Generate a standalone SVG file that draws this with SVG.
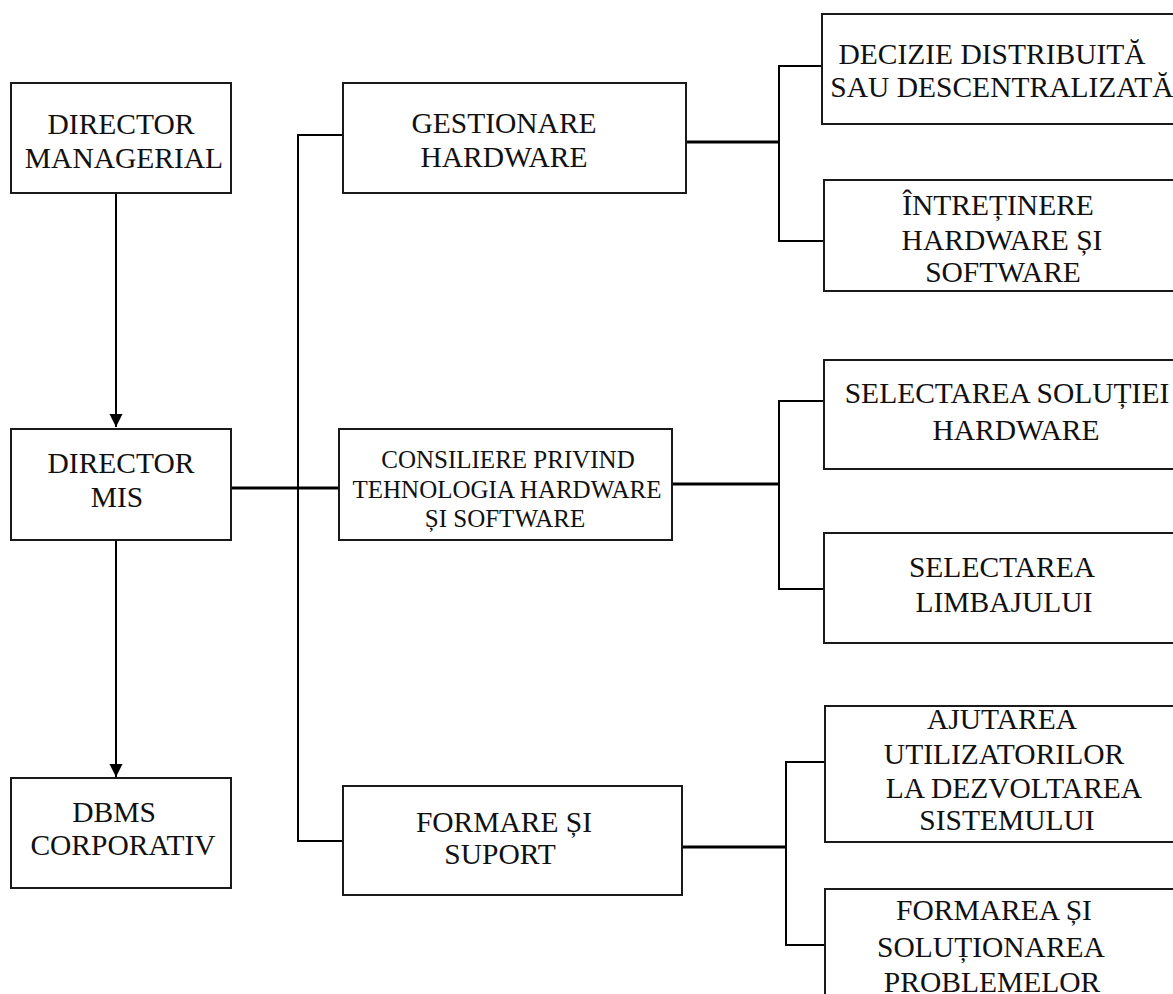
<svg xmlns="http://www.w3.org/2000/svg" width="1173" height="994" viewBox="0 0 1173 994">
<style>
.box{fill:#fff;stroke:#1a1a1a;stroke-width:2}
.t{font-family:"Liberation Serif","Times New Roman",serif;font-size:29.5px;fill:#111;text-anchor:middle}
.s{font-size:25px}
.c{fill:none;stroke:#000;stroke-width:2}
.ck{fill:none;stroke:#000;stroke-width:3}
</style>
<defs>
<marker id="arr" markerWidth="14" markerHeight="14" refX="13" refY="6.5" orient="auto" markerUnits="userSpaceOnUse">
<path d="M0,0 L13,6.5 L0,13 Z" fill="#000"/>
</marker>
</defs>
<rect width="1173" height="994" fill="#fff"/>
<g id="connectors">
<line class="c" x1="116" y1="193" x2="116" y2="427" marker-end="url(#arr)"/>
<line class="c" x1="116" y1="540" x2="116" y2="777" marker-end="url(#arr)"/>
<line class="ck" x1="231" y1="488" x2="340" y2="488"/>
<polyline class="c" points="343,135 298,135 298,841 343,841"/>
<line class="ck" x1="686" y1="142" x2="779" y2="142"/>
<polyline class="c" points="822,66 779,66 779,241 824,241"/>
<line class="ck" x1="672" y1="484" x2="779" y2="484"/>
<polyline class="c" points="824,401 779,401 779,589 824,589"/>
<line class="ck" x1="682" y1="847" x2="786" y2="847"/>
<polyline class="c" points="825,762 786,762 786,945 825,945"/>
</g>
<g id="director-managerial">
<rect class="box" x="11" y="83" width="220" height="110"/>
<text class="t" x="121" y="134">DIRECTOR</text>
<text class="t" x="124" y="168">MANAGERIAL</text>
</g>
<g id="director-mis">
<rect class="box" x="11" y="429" width="220" height="111"/>
<text class="t" x="121" y="473">DIRECTOR</text>
<text class="t" x="117" y="507">MIS</text>
</g>
<g id="dbms-corporativ">
<rect class="box" x="11" y="778" width="220" height="110"/>
<text class="t" x="114" y="822">DBMS</text>
<text class="t" x="123" y="855">CORPORATIV</text>
</g>
<g id="gestionare-hardware">
<rect class="box" x="343" y="83" width="343" height="110"/>
<text class="t" x="504" y="133">GESTIONARE</text>
<text class="t" x="504" y="167">HARDWARE</text>
</g>
<g id="consiliere">
<rect class="box" x="339" y="429" width="333" height="111"/>
<text class="t s" x="508" y="468">CONSILIERE PRIVIND</text>
<text class="t s" x="507" y="498">TEHNOLOGIA HARDWARE</text>
<text class="t s" x="505" y="527">ȘI SOFTWARE</text>
</g>
<g id="formare-suport">
<rect class="box" x="343" y="786" width="339" height="109"/>
<text class="t" x="504" y="832">FORMARE ȘI</text>
<text class="t" x="500" y="864">SUPORT</text>
</g>
<g id="decizie">
<rect class="box" x="822" y="14" width="360" height="110"/>
<text class="t" x="992" y="64">DECIZIE DISTRIBUITĂ</text>
<text class="t" x="1002" y="97">SAU DESCENTRALIZATĂ</text>
</g>
<g id="intretinere">
<rect class="box" x="824" y="180" width="360" height="111"/>
<text class="t" x="998" y="215">ÎNTREȚINERE</text>
<text class="t" x="1002" y="250">HARDWARE ȘI</text>
<text class="t" x="1003" y="282">SOFTWARE</text>
</g>
<g id="selectarea-solutiei">
<rect class="box" x="824" y="360" width="360" height="109"/>
<text class="t" x="1007" y="403">SELECTAREA SOLUȚIEI</text>
<text class="t" x="1016" y="440">HARDWARE</text>
</g>
<g id="selectarea-limbajului">
<rect class="box" x="824" y="533" width="360" height="110"/>
<text class="t" x="1002" y="577">SELECTAREA</text>
<text class="t" x="1004" y="612">LIMBAJULUI</text>
</g>
<g id="ajutarea">
<rect class="box" x="825" y="706" width="360" height="136"/>
<text class="t" x="1002" y="729">AJUTAREA</text>
<text class="t" x="1004" y="764">UTILIZATORILOR</text>
<text class="t" x="1014" y="798">LA DEZVOLTAREA</text>
<text class="t" x="1007" y="830">SISTEMULUI</text>
</g>
<g id="formarea-solutionarea">
<rect class="box" x="825" y="889" width="360" height="120"/>
<text class="t" x="994" y="920">FORMAREA ȘI</text>
<text class="t" x="991" y="957">SOLUȚIONAREA</text>
<text class="t" x="992" y="992">PROBLEMELOR</text>
</g>
</svg>
